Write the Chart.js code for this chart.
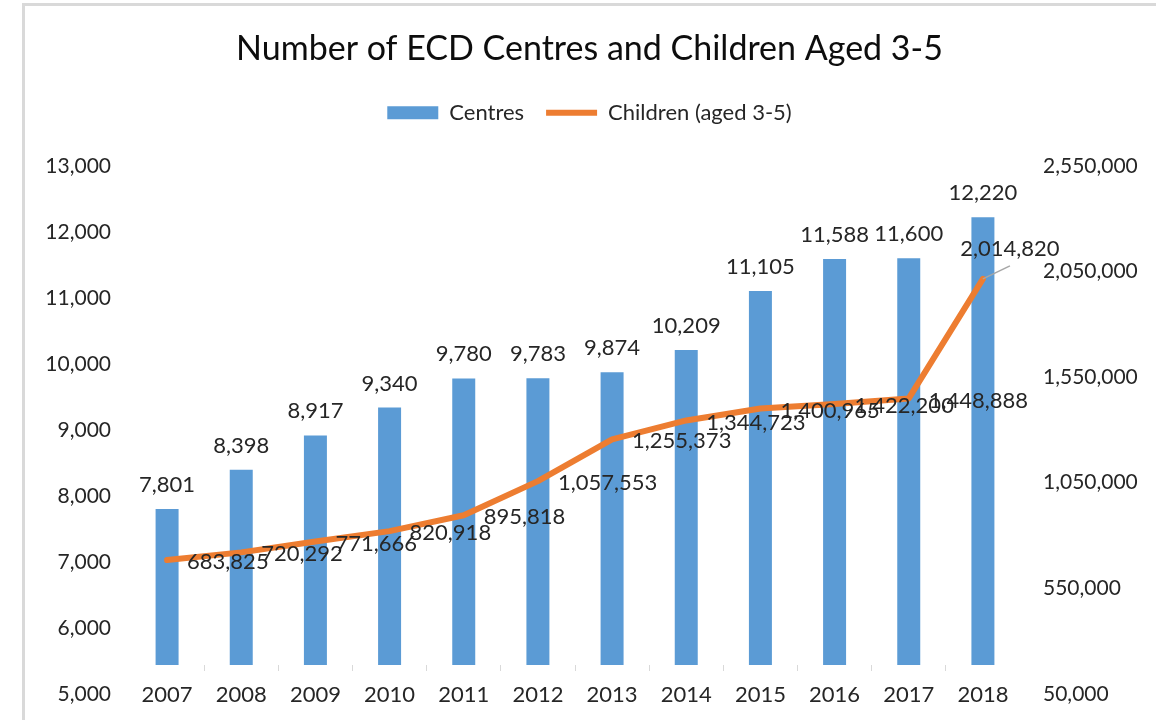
<!DOCTYPE html>
<html>
<head>
<meta charset="utf-8">
<script src="https://cdn.jsdelivr.net/npm/chart.js@4.4.1/dist/chart.umd.min.js"></script>
<style>
  body { margin: 0; background: #fff; }
  #frame { position: absolute; left: 22px; top: 3px; width: 1140px; height: 730px;
           border-left: 3px solid #d9d9d9; border-top: 3px solid #d9d9d9; }
  #myChart { position: absolute; left: 0; top: 0; }
</style>
</head>
<body>
<div id="frame"></div>
<canvas id="myChart" width="1156" height="720"></canvas>
<script>
const years = ["2007", "2008", "2009", "2010", "2011", "2012", "2013", "2014", "2015", "2016", "2017", "2018"];
const centres = [7801, 8398, 8917, 9340, 9780, 9783, 9874, 10209, 11105, 11588, 11600, 12220];
const children = [683825, 720292, 771666, 820918, 895818, 1057553, 1255373, 1344723, 1400965, 1422200, 1448888, 2014820];
const leftTicks = [5000, 6000, 7000, 8000, 9000, 10000, 11000, 12000, 13000];
const rightTicks = [50000, 550000, 1050000, 1550000, 2050000, 2550000];

const FONT = "Lato";
const TEXT = "#262626";

// data labels: above bars, right of line points (last one lifted with a leader line)
const labelPlugin = {
  id: "labels",
  afterDatasetsDraw(chart) {
    const c = chart.ctx;
    c.save();
    c.font = "22px " + FONT;
    c.fillStyle = TEXT;
    c.textBaseline = "middle";
    const bars = chart.getDatasetMeta(0).data;
    c.textAlign = "center";
    bars.forEach((b, i) => c.fillText(centres[i].toLocaleString("en-US"), b.x, b.y - 24));
    const pts = chart.getDatasetMeta(1).data;
    pts.forEach((p, i) => {
      const txt = children[i].toLocaleString("en-US");
      if (i === pts.length - 1) {
        c.strokeStyle = "#a6a6a6";
        c.lineWidth = 1.5;
        c.beginPath();
        c.moveTo(p.x, p.y);
        c.lineTo(p.x + 27, p.y - 13);
        c.stroke();
        c.textAlign = "center";
        c.fillText(txt, p.x + 27, p.y - 30);
      } else {
        c.textAlign = "left";
        c.fillText(txt, p.x + 20, p.y + 2);
      }
    });
    c.restore();
  }
};

// y axes: fixed widths, no extra label padding above/below the plot
const fitY = (w) => (s) => {
  s.width = w;
  s.paddingTop = 0;
  s.paddingBottom = 0;
};

const ctx = document.getElementById("myChart");
const myChart = new Chart(ctx, {
  data: {
    labels: years,
    datasets: [
      {
        type: "bar",
        label: "Centres",
        data: centres,
        yAxisID: "y",
        backgroundColor: "#5B9BD5",
        borderWidth: 0,
        base: 5440,
        barPercentage: 0.31,
        categoryPercentage: 1,
        pointStyle: "rect",
        order: 1,
      },
      {
        type: "line",
        label: "Children (aged 3-5)",
        data: children,
        yAxisID: "y1",
        borderColor: "#ED7D31",
        backgroundColor: "#ED7D31",
        borderWidth: 6,
        tension: 0,
        pointRadius: 0,
        borderCapStyle: "round",
        borderJoinStyle: "round",
        pointStyle: "line",
        order: 0,
      },
    ],
  },
  options: {
    responsive: false,
    devicePixelRatio: 1,
    animation: false,
    layout: { padding: { left: 23, right: 0, top: 0, bottom: 26 } },
    plugins: {
      title: {
        display: true,
        text: "Number of ECD Centres and Children Aged 3-5",
        color: "#0d0d0d",
        font: { family: FONT, size: 34, weight: "normal" },
        padding: { top: 29, bottom: 10 },
      },
      // empty spacer between legend and plot
      subtitle: {
        display: true,
        text: "",
        weight: 500,
        font: { size: 10 },
        padding: { top: 20, bottom: 0 },
      },
      legend: {
        display: true,
        labels: {
          color: TEXT,
          font: { family: FONT, size: 22 },
          usePointStyle: true,
          pointStyleWidth: 51,
          boxHeight: 13,
          padding: 22,
          sort: (a, b) => a.datasetIndex - b.datasetIndex,
        },
      },
      tooltip: { enabled: false },
    },
    scales: {
      x: {
        type: "category",
        position: { y: 5440 },
        grid: {
          offset: true,
          drawOnChartArea: false,
          tickLength: 6,
          color: (c) => (c.index === 0 || c.index === undefined ? "rgba(0,0,0,0)" : "#d9d9d9"),
        },
        border: { display: false },
        ticks: { color: TEXT, font: { family: FONT, size: 22 }, padding: 11 },
      },
      y: {
        position: "left",
        min: 5000,
        max: 13000,
        grid: { display: false, drawTicks: false },
        border: { display: false },
        ticks: { color: TEXT, font: { family: FONT, size: 21 }, padding: 19 },
        afterBuildTicks: (s) => { s.ticks = leftTicks.map((v) => ({ value: v })); },
        afterFit: fitY(107),
      },
      y1: {
        position: "right",
        min: 50000,
        max: 2550000,
        grid: { display: false, drawTicks: false },
        border: { display: false },
        ticks: { color: TEXT, font: { family: FONT, size: 21 }, padding: 23 },
        afterBuildTicks: (s) => { s.ticks = rightTicks.map((v) => ({ value: v })); },
        afterFit: fitY(136),
      },
    },
  },
  plugins: [labelPlugin],
});
</script>
</body>
</html>
